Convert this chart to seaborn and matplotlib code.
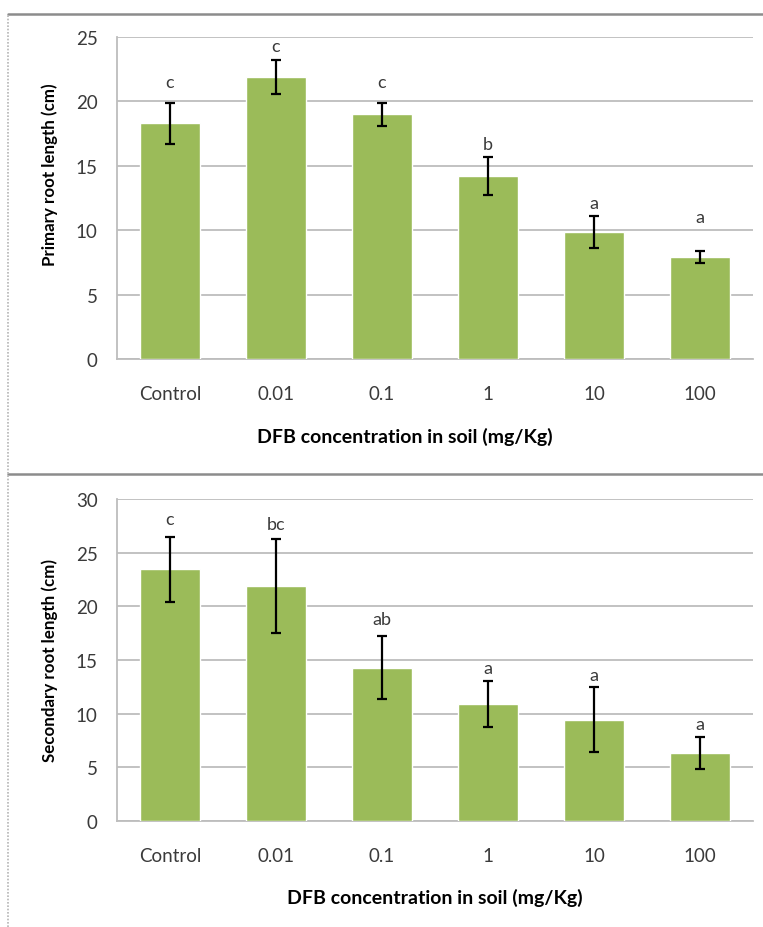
import matplotlib
matplotlib.use("Agg")
import matplotlib.pyplot as plt
from matplotlib.lines import Line2D
import numpy as np
import pandas as pd
import seaborn as sns

# Treatments (DFB concentration in soil, mg/Kg)
concentrations = ["Control", "0.01", "0.1", "1", "10", "100"]

# Primary root length (cm): mean, error and significance letters
primary_mean = [18.3, 21.9, 19.0, 14.2, 9.85, 7.9]
primary_err = [1.6, 1.35, 0.9, 1.45, 1.25, 0.45]
primary_letters = ["c", "c", "c", "b", "a", "a"]

# Secondary root length (cm): mean, error and significance letters
secondary_mean = [23.45, 21.9, 14.3, 10.9, 9.45, 6.35]
secondary_err = [3.05, 4.4, 2.9, 2.15, 3.0, 1.5]
secondary_letters = ["c", "bc", "ab", "a", "a", "a"]

# Heights at which the letters sit (layout only)
primary_letter_y = [21.5, 24.3, 21.5, 16.7, 12.1, 11.0]
secondary_letter_y = [28.1, 27.7, 18.8, 14.3, 13.6, 9.0]

BAR_COLOR = "#9BBB59"
GRID_COLOR = "#BDBDBD"
TEXT_COLOR = "#3a3a3a"

sns.set_style("white")
plt.rcParams["font.family"] = ["Lato", "DejaVu Sans"]

W, H = 763, 928
fig = plt.figure(figsize=(W / 100, H / 100), dpi=100)


def px_axes(left, top, right, bottom):
    return fig.add_axes([left / W, 1 - bottom / H, (right - left) / W, (bottom - top) / H])


def draw_panel(ax, means, errs, letters, letter_y, ymax, ylabel, ylabel_pos, xlabel_pos):
    df = pd.DataFrame({"conc": concentrations, "length": means})
    sns.barplot(data=df, x="conc", y="length", color=BAR_COLOR, saturation=1,
                width=0.57, errorbar=None, ax=ax, zorder=3)
    xs = np.arange(len(concentrations))
    ax.errorbar(xs, means, yerr=errs, fmt="none", ecolor="black",
                elinewidth=1.6, capsize=3.4, capthick=1.6, zorder=4)
    for x, lab, ly in zip(xs, letters, letter_y):
        ax.text(x, ly, lab, ha="center", va="center", fontsize=13, color=TEXT_COLOR)
    ax.set_ylim(0, ymax)
    ax.set_xlim(-0.5, len(concentrations) - 0.5)
    ax.set_yticks(np.arange(0, ymax + 1, 5))
    ax.yaxis.grid(True, color=GRID_COLOR, linewidth=1.3, zorder=0)
    ax.set_axisbelow(True)
    for side in ("top", "right"):
        ax.spines[side].set_visible(False)
    for side in ("left", "bottom"):
        ax.spines[side].set_color(GRID_COLOR)
        ax.spines[side].set_linewidth(1.3)
    ax.tick_params(axis="both", length=0, labelsize=13.5, colors=TEXT_COLOR)
    ax.tick_params(axis="y", pad=14)
    ax.tick_params(axis="x", pad=19)
    ax.set_xlabel("")
    ax.set_ylabel("")
    fig.text(ylabel_pos[0] / W, 1 - ylabel_pos[1] / H, ylabel, rotation=90,
             ha="center", va="center", fontsize=12.2, fontweight="bold", color="black")
    fig.text(xlabel_pos[0] / W, 1 - xlabel_pos[1] / H,
             "DFB concentration in soil (mg/Kg)", ha="center", va="center",
             fontsize=14, fontweight="bold", color="black")


ax_top = px_axes(117, 38, 753, 360)
draw_panel(ax_top, primary_mean, primary_err, primary_letters, primary_letter_y, 25,
           "Primary root length (cm)", (50, 175), (405, 437))

ax_bot = px_axes(117, 500, 753, 822)
draw_panel(ax_bot, secondary_mean, secondary_err, secondary_letters, secondary_letter_y, 30,
           "Secondary root length (cm)", (50, 661), (435, 898))

# Chart-area frames around each panel
frame_kw = dict(color="#8c8c8c", linewidth=1.8, transform=fig.transFigure)
fig.add_artist(Line2D([8 / W, 1], [1 - 14.5 / H] * 2, **frame_kw))
fig.add_artist(Line2D([8 / W, 1], [1 - 474.5 / H] * 2, **frame_kw))
fig.add_artist(Line2D([8 / W] * 2, [0, 1 - 14.5 / H], color="#b5b5b5",
                      linewidth=1.2, linestyle=(0, (1, 1)), transform=fig.transFigure))

fig.savefig("out.png", dpi=100, facecolor="white")
